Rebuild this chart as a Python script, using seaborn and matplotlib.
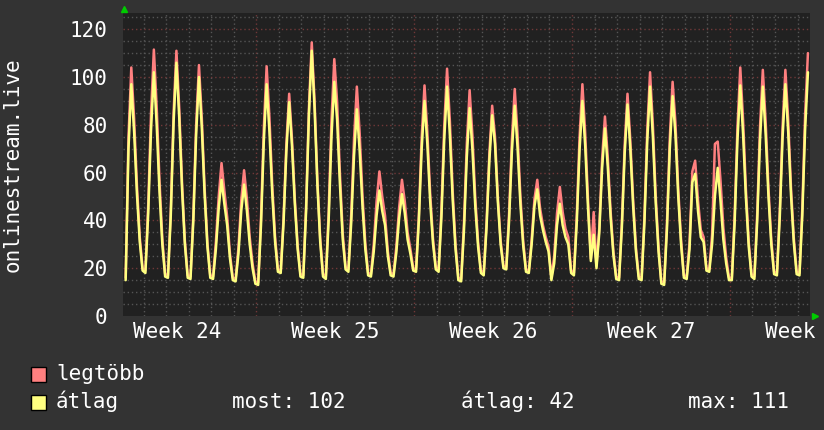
import numpy as np
import seaborn as sns
import matplotlib.pyplot as plt
from matplotlib.patches import Rectangle

# 3-hourly samples, day 0 = monday of week 24. first sample day 1 05:00, last day 31 11:00
legtobb = [
    16, 75, 104, 82.5, 54.5, 33, 20,               # day 1 (from 05h)
    19, 46.5, 85, 111.5, 87.5, 56.5, 32.5, 17.5,   # 2
    17, 44, 85, 111, 87, 55.5, 31.5, 17,           # 3
    16.5, 42, 80, 105, 83, 53.5, 30.5, 17,         # 4
    16.5, 31, 50, 64, 52.5, 41.5, 26, 16,          # 5
    15.5, 28.5, 48.5, 61, 49, 33, 22, 14.5,        # 6
    14, 41, 78.5, 104.5, 83, 54.5, 33, 19.5,       # 7
    19, 41, 72, 93, 74, 49, 29.5, 17.5,            # 8
    17, 46, 87, 114.5, 90, 57, 32.5, 17.5,         # 9
    16.5, 43.5, 82, 107.5, 89.5, 59.5, 34.5, 20.5, # 10
    19.5, 42.5, 74, 96, 76.5, 50.5, 30.5, 18,      # 11
    17.5, 30, 48, 60.5, 50, 42, 27, 18,            # 12
    17.5, 29, 45.5, 57, 48, 35, 28, 20,            # 13
    19.5, 42.5, 75, 96.5, 77, 51.5, 32.5, 20.5,    # 14
    19.5, 44.5, 79.5, 103.5, 81.5, 52, 30, 16,     # 15
    15.5, 39, 72, 94.5, 75.5, 49.5, 31, 19,        # 16
    18, 39, 68, 88, 75, 50, 31.5, 21,              # 17
    20.5, 43, 74, 95, 76, 50.5, 31.5, 19.5,        # 18
    19, 32, 49, 57, 45, 38, 33, 29,                # 19
    16, 25, 43, 54, 43.5, 36.5, 33, 19,            # 20
    18, 42, 75, 97, 76.5, 48.5, 24, 43.5,          # 21
    21, 37, 66, 83.5, 66.5, 44, 27, 16.5,          # 22
    16, 39, 71.5, 93, 73.5, 48.5, 28.5, 16.5,      # 23
    16, 41.5, 77.5, 102, 80, 50.5, 29, 14.5,       # 24
    14, 39, 74.5, 98, 81, 53, 32, 17,              # 25
    16.5, 30.5, 60.5, 65, 48.5, 36, 33, 20,        # 26
    19.5, 34, 72, 73, 56.5, 37, 24.5, 16,          # 27
    16, 42, 79, 104, 82, 53, 31, 17.5,             # 28
    16.5, 42.5, 79, 103, 81.5, 53.5, 32, 18.5,     # 29
    18, 43.5, 79, 103, 82, 53.5, 32.5, 18.5,       # 30
    18, 45, 84, 110,                               # 31 (until 11h)
]

atlag = [
    15, 70, 97, 77, 51, 31, 19,                    # day 1
    18, 43, 78, 102, 80, 52, 30, 16.5,             # 2
    16, 42, 81, 106, 83, 53, 30, 16,               # 3
    15.5, 40, 76, 100, 79, 51, 29, 16,             # 4
    15.5, 28, 45, 57, 47, 38, 24, 15,              # 5
    14.5, 26, 44, 55, 44, 30, 20, 13.5,            # 6
    13, 38, 73, 97, 77, 51, 31, 18.5,              # 7
    18, 39, 69, 89.5, 71, 47, 28, 16.5,            # 8
    16, 44, 84, 111, 87, 55, 31, 16.5,             # 9
    15.5, 40, 75, 98, 82, 55, 32, 19.5,            # 10
    18.5, 39, 67, 86.5, 69, 46, 28, 17,            # 11
    16.5, 27, 42, 52.5, 44, 38, 25, 17,            # 12
    16.5, 26.5, 41, 51, 43, 32, 26, 19,            # 13
    18.5, 40, 70, 90, 72, 48, 30.5, 19.5,          # 14
    18.5, 41.5, 74, 96, 75.5, 48.5, 28, 15,        # 15
    14.5, 36, 66.5, 87, 69.5, 46, 29, 18,          # 16
    17, 37, 65, 84, 72, 48, 30, 20,                # 17
    19.5, 40, 69, 88, 70.5, 47, 29.5, 18.5,        # 18
    18, 30, 46, 53, 42, 36, 31, 27,                # 19
    15, 22, 38, 47, 38, 33, 30, 18,                # 20
    17, 39, 69.5, 90, 71, 45, 23, 34,              # 21
    20, 35, 62, 78.5, 62.5, 41.5, 25.5, 15.5,      # 22
    15, 37, 68, 88.5, 70, 46, 27, 15.5,            # 23
    15, 39, 73, 96, 75, 47.5, 27, 13.5,            # 24
    13, 36.5, 70, 92, 76, 50, 30, 16,              # 25
    15.5, 28, 56, 59.5, 44, 33, 31, 19,            # 26
    18.5, 30, 50, 62, 48, 32, 22, 15,              # 27
    15, 39, 73.5, 96.5, 76, 49.5, 29, 16.5,        # 28
    15.5, 39.5, 73.5, 96, 76, 50, 30, 17.5,        # 29
    17, 41, 74.5, 97, 77, 50.5, 30.5, 17.5,        # 30
    17, 42, 78, 102,                               # 31
]

weeks = ['Week 24', 'Week 25', 'Week 26', 'Week 27', 'Week 28']
week_mid = [3.5, 10.5, 17.5, 24.5, 31.5]
yticks = [0, 20, 40, 60, 80, 100, 120]
stats = ['most: 102', 'átlag: 42', 'max: 111']

t = 1 + 5 / 24 + np.arange(len(atlag)) * 3 / 24

sns.set_style('dark')
plt.rcParams['font.family'] = ['DejaVu Sans Mono']

fig, ax = plt.subplots(figsize=(8.24, 4.3), dpi=100)
fig.subplots_adjust(left=123 / 824, right=810 / 824, bottom=114 / 430, top=417 / 430)
fig.set_facecolor('#333333')
ax.set_facecolor('#212121')

# rrdtool style grid: gray dotted per day / 5 units, red dotted per week / 20 units
minor_c = '#555555'
major_c = '#703838'
for d in range(1, 32):
    ax.axvline(d, color=major_c if d % 7 == 0 else minor_c, lw=1, ls=(0, (1, 2)), zorder=0)
for v in range(5, 127, 5):
    ax.axhline(v, color=major_c if v % 20 == 0 else minor_c, lw=1, ls=(0, (1, 2)), zorder=0)

sns.lineplot(x=t, y=legtobb, ax=ax, color='#ff8080', lw=1.8)
sns.lineplot(x=t, y=atlag, ax=ax, color='#ffff80', lw=1.8)

ax.set_xlim(1.09, 31.55)
ax.set_ylim(0, 126.8)
ax.set_xticks(week_mid, weeks)
ax.set_yticks(yticks)
ax.tick_params(axis='x', length=0, colors='white', labelsize=15, pad=4)
ax.tick_params(axis='y', length=0, colors='white', labelsize=15, pad=11)
for s in ax.spines.values():
    s.set_visible(False)

fig.text(13 / 824, 0.617, 'onlinestream.live', rotation=90, ha='center', va='center',
         fontsize=15, color='white')

# green arrows at axis ends
ax.plot([0.002], [1.012], marker='^', color='#00cc00', ms=5, transform=ax.transAxes, clip_on=False)
ax.plot([1.007], [0.0], marker='>', color='#00cc00', ms=5, transform=ax.transAxes, clip_on=False)

# legend, rrdtool style
for row, (name, col) in enumerate([('legtöbb', '#ff8080'), ('átlag', '#ffff80')]):
    y0 = (430 - 382 - row * 28) / 430
    fig.add_artist(Rectangle((31 / 824, y0), 15 / 824, 15 / 430, transform=fig.transFigure,
                             facecolor=col, edgecolor='black', lw=1))
    fig.text(56 / 824, y0 + 2 / 430, name, fontsize=15, color='white', va='baseline')
for xpos, s in zip([232, 461, 688], stats):
    fig.text(xpos / 824, (430 - 382 - 28) / 430 + 2 / 430, s, fontsize=15, color='white', va='baseline')

plt.savefig('out.png', dpi=100, facecolor=fig.get_facecolor())
